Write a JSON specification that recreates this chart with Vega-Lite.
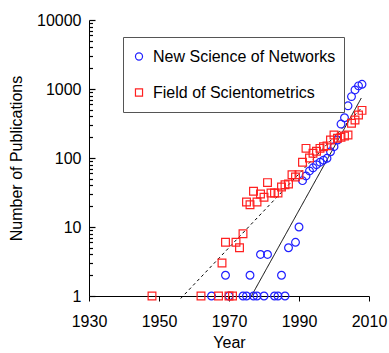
{
  "$schema": "https://vega.github.io/schema/vega-lite/v6.json",
  "width": 280,
  "height": 276,
  "autosize": {"type": "none"},
  "padding": {"left": 89, "top": 20, "right": 20, "bottom": 57},
  "config": {
    "font": "Liberation Sans",
    "view": {"stroke": null, "fill": null},
    "axis": {
      "grid": false,
      "domainColor": "black",
      "tickColor": "black",
      "labelColor": "black",
      "titleColor": "black",
      "labelFontSize": 16,
      "titleFontSize": 16,
      "titleFontWeight": "normal",
      "labelFont": "Liberation Sans",
      "titleFont": "Liberation Sans"
    },
    "legend": {
      "labelFont": "Liberation Sans",
      "labelFontSize": 16,
      "labelColor": "black",
      "labelOffset": 6,
      "symbolSize": 50,
      "symbolStrokeWidth": 1.2,
      "clipHeight": 23,
      "rowPadding": 13,
      "padding": 8,
      "fillColor": "white",
      "strokeColor": "#555555",
      "labelLimit": 300
    }
  },
  "datasets": {
    "pubs": [
      {"series": "New Science of Networks", "year": 1965, "count": 1},
      {"series": "New Science of Networks", "year": 1969, "count": 2},
      {"series": "New Science of Networks", "year": 1970, "count": 1},
      {"series": "New Science of Networks", "year": 1974, "count": 1},
      {"series": "New Science of Networks", "year": 1975, "count": 1},
      {"series": "New Science of Networks", "year": 1976, "count": 2},
      {"series": "New Science of Networks", "year": 1977, "count": 1},
      {"series": "New Science of Networks", "year": 1978, "count": 1},
      {"series": "New Science of Networks", "year": 1979, "count": 4},
      {"series": "New Science of Networks", "year": 1980, "count": 1},
      {"series": "New Science of Networks", "year": 1981, "count": 4},
      {"series": "New Science of Networks", "year": 1983, "count": 1},
      {"series": "New Science of Networks", "year": 1984, "count": 1},
      {"series": "New Science of Networks", "year": 1985, "count": 2},
      {"series": "New Science of Networks", "year": 1986, "count": 1},
      {"series": "New Science of Networks", "year": 1987, "count": 5},
      {"series": "New Science of Networks", "year": 1989, "count": 6},
      {"series": "New Science of Networks", "year": 1990, "count": 10},
      {"series": "New Science of Networks", "year": 1991, "count": 47},
      {"series": "New Science of Networks", "year": 1992, "count": 55},
      {"series": "New Science of Networks", "year": 1993, "count": 65},
      {"series": "New Science of Networks", "year": 1994, "count": 72},
      {"series": "New Science of Networks", "year": 1995, "count": 80},
      {"series": "New Science of Networks", "year": 1996, "count": 87},
      {"series": "New Science of Networks", "year": 1997, "count": 93},
      {"series": "New Science of Networks", "year": 1998, "count": 99},
      {"series": "New Science of Networks", "year": 1999, "count": 123},
      {"series": "New Science of Networks", "year": 2000, "count": 146},
      {"series": "New Science of Networks", "year": 2001, "count": 182},
      {"series": "New Science of Networks", "year": 2002, "count": 310},
      {"series": "New Science of Networks", "year": 2003, "count": 383},
      {"series": "New Science of Networks", "year": 2004, "count": 570},
      {"series": "New Science of Networks", "year": 2005, "count": 776},
      {"series": "New Science of Networks", "year": 2006, "count": 970},
      {"series": "New Science of Networks", "year": 2007, "count": 1110},
      {"series": "New Science of Networks", "year": 2008, "count": 1170},
      {"series": "Field of Scientometrics", "year": 1948, "count": 1},
      {"series": "Field of Scientometrics", "year": 1962, "count": 1},
      {"series": "Field of Scientometrics", "year": 1967, "count": 1},
      {"series": "Field of Scientometrics", "year": 1968, "count": 3},
      {"series": "Field of Scientometrics", "year": 1969, "count": 6},
      {"series": "Field of Scientometrics", "year": 1970, "count": 1},
      {"series": "Field of Scientometrics", "year": 1971, "count": 1},
      {"series": "Field of Scientometrics", "year": 1972, "count": 6},
      {"series": "Field of Scientometrics", "year": 1973, "count": 5},
      {"series": "Field of Scientometrics", "year": 1974, "count": 8},
      {"series": "Field of Scientometrics", "year": 1975, "count": 23},
      {"series": "Field of Scientometrics", "year": 1976, "count": 21},
      {"series": "Field of Scientometrics", "year": 1977, "count": 33},
      {"series": "Field of Scientometrics", "year": 1978, "count": 23},
      {"series": "Field of Scientometrics", "year": 1979, "count": 30},
      {"series": "Field of Scientometrics", "year": 1980, "count": 27},
      {"series": "Field of Scientometrics", "year": 1981, "count": 44},
      {"series": "Field of Scientometrics", "year": 1982, "count": 31},
      {"series": "Field of Scientometrics", "year": 1983, "count": 31},
      {"series": "Field of Scientometrics", "year": 1984, "count": 31},
      {"series": "Field of Scientometrics", "year": 1985, "count": 38},
      {"series": "Field of Scientometrics", "year": 1986, "count": 41},
      {"series": "Field of Scientometrics", "year": 1987, "count": 42},
      {"series": "Field of Scientometrics", "year": 1988, "count": 57},
      {"series": "Field of Scientometrics", "year": 1989, "count": 53},
      {"series": "Field of Scientometrics", "year": 1990, "count": 57},
      {"series": "Field of Scientometrics", "year": 1991, "count": 87},
      {"series": "Field of Scientometrics", "year": 1992, "count": 138},
      {"series": "Field of Scientometrics", "year": 1993, "count": 100},
      {"series": "Field of Scientometrics", "year": 1994, "count": 117},
      {"series": "Field of Scientometrics", "year": 1995, "count": 125},
      {"series": "Field of Scientometrics", "year": 1996, "count": 138},
      {"series": "Field of Scientometrics", "year": 1997, "count": 146},
      {"series": "Field of Scientometrics", "year": 1998, "count": 150},
      {"series": "Field of Scientometrics", "year": 1999, "count": 182},
      {"series": "Field of Scientometrics", "year": 2000, "count": 215},
      {"series": "Field of Scientometrics", "year": 2001, "count": 193},
      {"series": "Field of Scientometrics", "year": 2002, "count": 200},
      {"series": "Field of Scientometrics", "year": 2003, "count": 208},
      {"series": "Field of Scientometrics", "year": 2004, "count": 215},
      {"series": "Field of Scientometrics", "year": 2005, "count": 318},
      {"series": "Field of Scientometrics", "year": 2006, "count": 355},
      {"series": "Field of Scientometrics", "year": 2007, "count": 420},
      {"series": "Field of Scientometrics", "year": 2008, "count": 490}
    ],
    "fits": [
      {"fit": "networks", "year": 1975.9, "count": 0.9},
      {"fit": "networks", "year": 2007.8, "count": 740},
      {"fit": "scientometrics", "year": 1956.2, "count": 0.92},
      {"fit": "scientometrics", "year": 2008, "count": 540}
    ]
  },
  "encoding": {
    "x": {
      "field": "year",
      "type": "quantitative",
      "scale": {"domain": [1930, 2010], "nice": false, "zero": false},
      "axis": {
        "title": "Year",
        "values": [1930, 1950, 1970, 1990, 2010],
        "format": "d",
        "tickSize": 5,
        "labelPadding": 12,
        "titlePadding": 5,
        "labelFlush": false
      }
    },
    "y": {
      "field": "count",
      "type": "quantitative",
      "scale": {"type": "log", "domain": [1, 10000], "nice": false},
      "axis": {
        "title": "Number of Publications",
        "values": [1, 2, 3, 4, 5, 6, 7, 8, 9, 10, 20, 30, 40, 50, 60, 70, 80, 90, 100, 200, 300, 400, 500, 600, 700, 800, 900, 1000, 2000, 3000, 4000, 5000, 6000, 7000, 8000, 9000, 10000],
        "format": "d",
        "labelExpr": "indexof(['1','10','100','1000','10000'], datum.label) >= 0 ? datum.label : ''",
        "ticks": true,
        "tickSize": {"condition": {"test": "indexof([1,10,100,1000,10000], datum.value) >= 0", "value": -6}, "value": -3.5},
        "tickWidth": 1.2,
        "tickColor": "black",
        "zindex": 1,
        "labelPadding": 14,
        "titlePadding": 12,
        "labelOverlap": false,
        "labelFlush": false
      }
    }
  },
  "layer": [
    {
      "data": {"name": "fits"},
      "mark": {"type": "line", "color": "black", "strokeWidth": 1},
      "encoding": {
        "detail": {"field": "fit", "type": "nominal"},
        "strokeDash": {
          "field": "fit",
          "type": "nominal",
          "scale": {"domain": ["networks", "scientometrics"], "range": [[1, 0], [3, 3]]},
          "legend": null
        }
      }
    },
    {
      "data": {"name": "pubs"},
      "mark": {"type": "point", "filled": false, "strokeWidth": 1.2, "size": 60, "opacity": 1},
      "encoding": {
        "shape": {
          "field": "series",
          "type": "nominal",
          "scale": {"domain": ["New Science of Networks", "Field of Scientometrics"], "range": ["circle", "square"]},
          "legend": {"title": null, "orient": "none", "legendX": 34, "legendY": 17}
        },
        "color": {
          "field": "series",
          "type": "nominal",
          "scale": {"domain": ["New Science of Networks", "Field of Scientometrics"], "range": ["#2020ff", "#ff2020"]},
          "legend": {"title": null, "orient": "none", "legendX": 34, "legendY": 17}
        }
      }
    }
  ]
}
